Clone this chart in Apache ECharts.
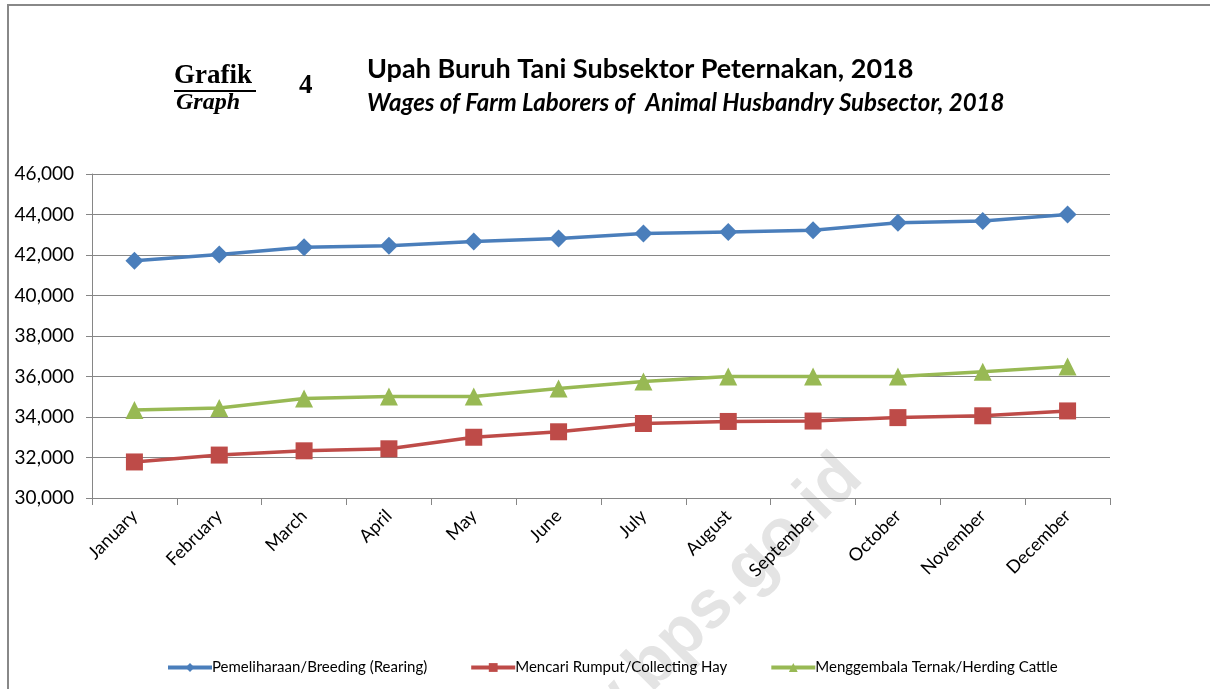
<!DOCTYPE html>
<html>
<head>
<meta charset="utf-8">
<script src="https://cdn.jsdelivr.net/npm/echarts@6/dist/echarts.min.js"></script>
<style>
html,body{margin:0;padding:0;background:#fff;}
#chart{width:1210px;height:689px;}
</style>
</head>
<body>
<div id="chart"></div>
<script>
const categories = ['January','February','March','April','May','June','July','August','September','October','November','December'];
const breeding = [41720, 42020, 42380, 42460, 42670, 42810, 43060, 43140, 43220, 43590, 43680, 44000];
const collectingHay = [31780, 32120, 32330, 32430, 33000, 33270, 33680, 33780, 33800, 33970, 34060, 34300];
const herding = [34350, 34450, 34910, 35010, 35010, 35410, 35750, 36000, 36000, 36000, 36230, 36500];
const seriesNames = ['Pemeliharaan/Breeding (Rearing)', 'Mencari Rumput/Collecting Hay', 'Menggembala Ternak/Herding Cattle'];
const yMin = 30000, yMax = 46000, yStep = 2000;

const chart = echarts.init(document.getElementById('chart'), null, {renderer:'canvas'});
const FONT = 'Lato, "Noto Sans", sans-serif';
const mk = (name, data, color, symbol, size) => ({
  name, type:'line', data, symbol, symbolSize:size,
  lineStyle:{color, width:3.5}, itemStyle:{color},
  z: 5
});
chart.setOption({
  animation:false,
  backgroundColor:'#fff',
  grid:{left:92, right:100, top:174, bottom:191, containLabel:false},
  xAxis:{
    type:'category', data:categories, boundaryGap:true,
    axisLine:{lineStyle:{color:'#868686', width:1}},
    axisTick:{show:true, length:7, alignWithLabel:false, lineStyle:{color:'#868686'}},
    axisLabel:{rotate:45, margin:15, color:'#000', fontFamily:FONT, fontSize:18, interval:0}
  },
  yAxis:{
    type:'value', min:yMin, max:yMax, interval:yStep,
    axisLine:{show:true, lineStyle:{color:'#868686', width:1}},
    axisTick:{show:true, length:6, lineStyle:{color:'#868686'}},
    splitLine:{lineStyle:{color:'#868686', width:1}},
    axisLabel:{margin:18, color:'#000', fontFamily:FONT, fontSize:19,
      formatter: v => v.toLocaleString('en-US')}
  },
  legend:{
    left:161, top:655, itemWidth:44, itemHeight:11, itemGap:42,
    lineStyle:{width:4},
    textStyle:{fontFamily:FONT, fontSize:15, color:'#000', padding:[0,0,0,-5]},
    data:seriesNames
  },
  series:[
    mk(seriesNames[0], breeding, '#4a7ebb', 'diamond', 18),
    mk(seriesNames[1], collectingHay, '#be4b48', 'rect', 17),
    mk(seriesNames[2], herding, '#98b954', 'triangle', 18)
  ],
  graphic:[
    {type:'polyline', silent:true, shape:{points:[[8,689],[8,5],[1210,5]]}, style:{stroke:'#888', lineWidth:2, fill:null}},
    {type:'text', silent:true, z:-1, x:490, y:780, rotation:Math.PI/4,
      style:{text:'www.bps.go.id', font:'bold 68px "Liberation Sans", Arial, sans-serif', fill:'#e4e4e4'}},
    {type:'text', x:174, y:63, style:{text:'Grafik', font:'bold 27px "Liberation Serif", serif', fill:'#000'}},
    {type:'line', shape:{x1:174, y1:91, x2:256, y2:91}, style:{stroke:'#000', lineWidth:2}},
    {type:'text', x:176, y:91, style:{text:'Graph', font:'italic bold 24px "Liberation Serif", serif', fill:'#000'}},
    {type:'text', x:299, y:73, style:{text:'4', font:'bold 27px "Liberation Serif", serif', fill:'#000'}},
    {type:'text', x:367, y:56, style:{text:'Upah Buruh Tani Subsektor Peternakan, 2018', font:'bold 27px Lato, sans-serif', fill:'#000'}},
    {type:'text', x:367, y:91, style:{text:'Wages of Farm Laborers of  Animal Husbandry Subsector, 2018', font:'italic bold 24px Lato, sans-serif', fill:'#000'}}
  ]
});
</script>
</body>
</html>
